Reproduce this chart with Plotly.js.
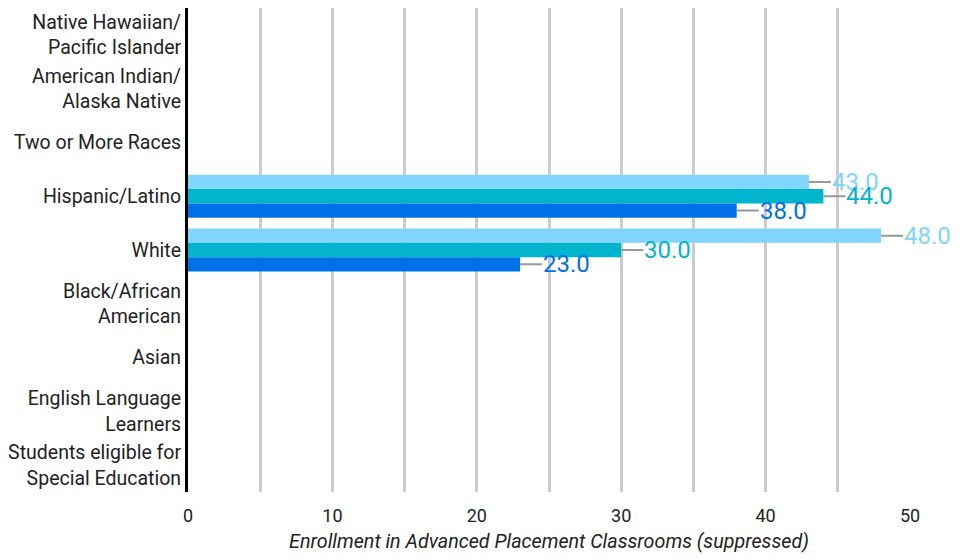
<!DOCTYPE html>
<html><head><meta charset="utf-8">
<script src="https://cdn.plot.ly/plotly-3.0.1.min.js"></script>
<style>html,body{margin:0;padding:0;background:#fff}</style>
</head><body><div id="chart" style="width:971px;height:560px"></div>
<script>
const categories = [
  "Native Hawaiian/<br>Pacific Islander",
  "American Indian/<br>Alaska Native",
  "Two or More Races",
  "Hispanic/Latino",
  "White",
  "Black/African<br>American",
  "Asian",
  "English Language<br>Learners",
  "Students eligible for<br>Special Education"
];
const series1 = [null, null, null, 43, 48, null, null, null, null];
const series2 = [null, null, null, 44, 30, null, null, null, null];
const series3 = [null, null, null, 38, 23, null, null, null, null];
const colors = ["#81d4fa", "#00b4cc", "#0070e8"];
const seriesList = [series1, series2, series3];

const traces = seriesList.map((s, i) => ({
  type: "bar", orientation: "h", x: s, y: categories,
  marker: {color: colors[i]}, hoverinfo: "skip", showlegend: false
}));

const W = 971, H = 560, ml = 188, mr = 61, mt = 8, mb = 68;
const bandPx = (H - mt - mb) / categories.length;
const bargap = 0.2;
const barPx = bandPx * (1 - bargap) / seriesList.length;

const annotations = [];
seriesList.forEach((s, i) => {
  s.forEach((v, j) => {
    if (v === null) return;
    annotations.push({
      x: v, y: categories[j], xref: "x", yref: "y",
      text: v.toFixed(1), showarrow: true, arrowhead: 0, arrowwidth: 2,
      arrowcolor: "#999999", ax: 22, ay: 0, xanchor: "left", standoff: 0,
      borderpad: 0,
      yshift: (1 - i) * barPx,
      font: {family: "Roboto", size: 24, color: colors[i]}
    });
  });
});

const layout = {
  width: W, height: H,
  margin: {l: ml, r: mr, t: mt, b: mb},
  paper_bgcolor: "#fff", plot_bgcolor: "#fff",
  barmode: "group", bargap: bargap, bargroupgap: 0,
  font: {family: "Roboto", color: "#222"},
  xaxis: {
    range: [0, 50], dtick: 10, tick0: 0,
    showgrid: true, gridcolor: "#cccccc", gridwidth: 3,
    minor: {dtick: 5, showgrid: true, gridcolor: "#cccccc", gridwidth: 3},
    zeroline: false, showline: false, ticks: "",
    ticklabelstandoff: 11,
    tickfont: {family: "Roboto", size: 18, color: "#222"},
    title: {text: "<i>Enrollment in Advanced Placement Classrooms (suppressed)</i>",
            font: {family: "Roboto", size: 19.7, color: "#222"}, standoff: 9},
    fixedrange: true
  },
  yaxis: {
    type: "category", autorange: "reversed",
    showline: true, linecolor: "#000", linewidth: 3,
    showgrid: false, zeroline: false, ticks: "",
    tickfont: {family: "Roboto", size: 19.5, color: "#222"},
    fixedrange: true
  },
  annotations: annotations
};

Plotly.newPlot("chart", traces, layout, {displayModeBar: false, staticPlot: true});
</script></body></html>
